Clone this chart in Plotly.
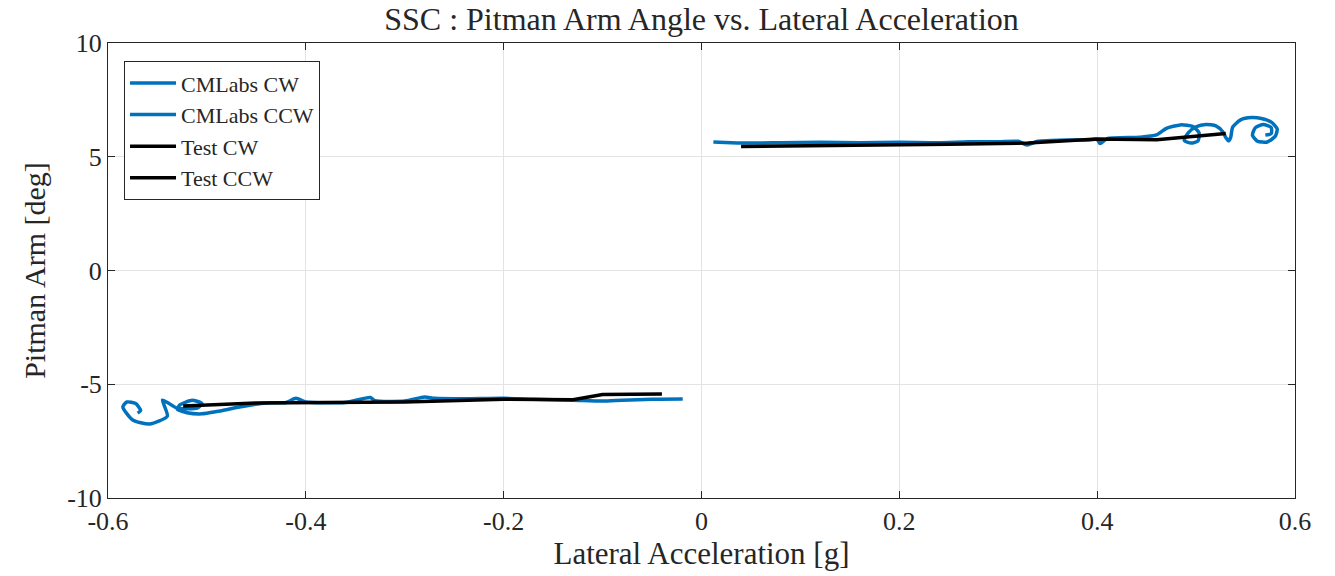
import plotly.graph_objects as go

# CMLabs CW (right side)
cm_cw_x = [0.012, 0.03, 0.05, 0.08, 0.12, 0.16, 0.20, 0.24, 0.27, 0.30, 0.32, 0.329, 0.34, 0.369, 0.39, 0.40, 0.403, 0.41,
           0.443, 0.460, 0.470, 0.484, 0.497, 0.503, 0.502, 0.495, 0.488, 0.492, 0.500, 0.510, 0.520, 0.527, 0.530,
           0.533, 0.535, 0.537, 0.545, 0.556, 0.566, 0.576, 0.582, 0.580, 0.572, 0.562, 0.557, 0.560, 0.568, 0.576,
           0.576, 0.570]
cm_cw_y = [5.65, 5.62, 5.60, 5.62, 5.64, 5.62, 5.64, 5.62, 5.66, 5.66, 5.68, 5.52, 5.68, 5.74, 5.74, 5.76, 5.58, 5.80,
           5.86, 5.96, 6.25, 6.40, 6.33, 6.05, 5.70, 5.60, 5.72, 6.05, 6.32, 6.42, 6.36, 6.10, 5.85,
           5.70, 5.85, 6.30, 6.62, 6.72, 6.68, 6.52, 6.22, 5.90, 5.65, 5.68, 5.95, 6.28, 6.42, 6.28,
           6.02, 5.95]

# CMLabs CCW (left side)
cm_ccw_x = [-0.019, -0.05, -0.08, -0.10, -0.13, -0.17, -0.20, -0.24, -0.27, -0.28, -0.30, -0.33, -0.335, -0.36, -0.40,
            -0.41, -0.42, -0.44, -0.467, -0.49, -0.505, -0.52, -0.53, -0.527, -0.515, -0.505, -0.51, -0.53, -0.54,
            -0.545, -0.54, -0.558, -0.575, -0.585, -0.581, -0.572, -0.567, -0.570]
cm_ccw_y = [-5.65, -5.66, -5.70, -5.74, -5.70, -5.66, -5.62, -5.64, -5.62, -5.56, -5.74, -5.72, -5.58, -5.80, -5.78,
            -5.62, -5.80, -5.82, -6.00, -6.20, -6.30, -6.25, -6.10, -5.90, -5.70, -5.85, -6.05, -6.05, -5.80,
            -5.70, -6.40, -6.75, -6.57, -6.00, -5.78, -5.85, -6.15, -6.27]

# Test CW (right side)
test_cw_x = [0.040, 0.10, 0.15, 0.20, 0.25, 0.33, 0.40, 0.46, 0.53]
test_cw_y = [5.45, 5.47, 5.50, 5.53, 5.55, 5.60, 5.78, 5.75, 6.02]

# Test CCW (left side)
test_ccw_x = [-0.524, -0.45, -0.38, -0.30, -0.20, -0.13, -0.10, -0.04]
test_ccw_y = [-5.96, -5.82, -5.80, -5.78, -5.66, -5.68, -5.45, -5.43]

blue = "#0072BD"
fig = go.Figure()
fig.add_trace(go.Scatter(x=cm_cw_x, y=cm_cw_y, mode="lines", name="CMLabs CW",
                         line=dict(color=blue, width=3.5, shape="spline", smoothing=0.6)))
fig.add_trace(go.Scatter(x=cm_ccw_x, y=cm_ccw_y, mode="lines", name="CMLabs CCW",
                         line=dict(color=blue, width=3.5, shape="spline", smoothing=0.6)))
fig.add_trace(go.Scatter(x=test_cw_x, y=test_cw_y, mode="lines", name="Test CW",
                         line=dict(color="black", width=3.5)))
fig.add_trace(go.Scatter(x=test_ccw_x, y=test_ccw_y, mode="lines", name="Test CCW",
                         line=dict(color="black", width=3.5)))

font_family = "Liberation Serif, DejaVu Serif, serif"
axis_common = dict(showgrid=True, gridcolor="#e3e3e3", gridwidth=1, zeroline=False,
                   showline=True, linecolor="#262626", linewidth=1, mirror="allticks",
                   ticks="inside", ticklen=7, tickcolor="#262626",
                   tickfont=dict(size=26, color="#262626", family=font_family))

fig.update_layout(
    width=1335, height=576,
    margin=dict(l=108, r=40, t=43, b=78),
    paper_bgcolor="white", plot_bgcolor="white",
    font=dict(family=font_family, color="#262626"),
    title=dict(text="SSC : Pitman Arm Angle vs. Lateral Acceleration", x=0.5, xref="paper",
               y=0.968, yref="container", xanchor="center", yanchor="middle",
               font=dict(size=32, family=font_family, color="#262626")),
    xaxis=dict(range=[-0.6, 0.6], tickvals=[-0.6, -0.4, -0.2, 0, 0.2, 0.4, 0.6],
               ticktext=["-0.6", "-0.4", "-0.2", "0", "0.2", "0.4", "0.6"],
               title=dict(text="Lateral Acceleration [g]", font=dict(size=31, family=font_family), standoff=5),
               **axis_common),
    yaxis=dict(range=[-10, 10], tickvals=[-10, -5, 0, 5, 10],
               ticktext=["-10", "-5", "0", "5", "10"],
               title=dict(text="Pitman Arm [deg]", font=dict(size=30, family=font_family), standoff=12),
               **axis_common),
    legend=dict(x=0.0135, y=0.96, xanchor="left", yanchor="top",
                bgcolor="white", bordercolor="#262626", borderwidth=1,
                font=dict(size=22, family=font_family, color="#262626"),
                tracegroupgap=0, itemwidth=46),
    showlegend=True,
)

fig.write_html("out.html")
